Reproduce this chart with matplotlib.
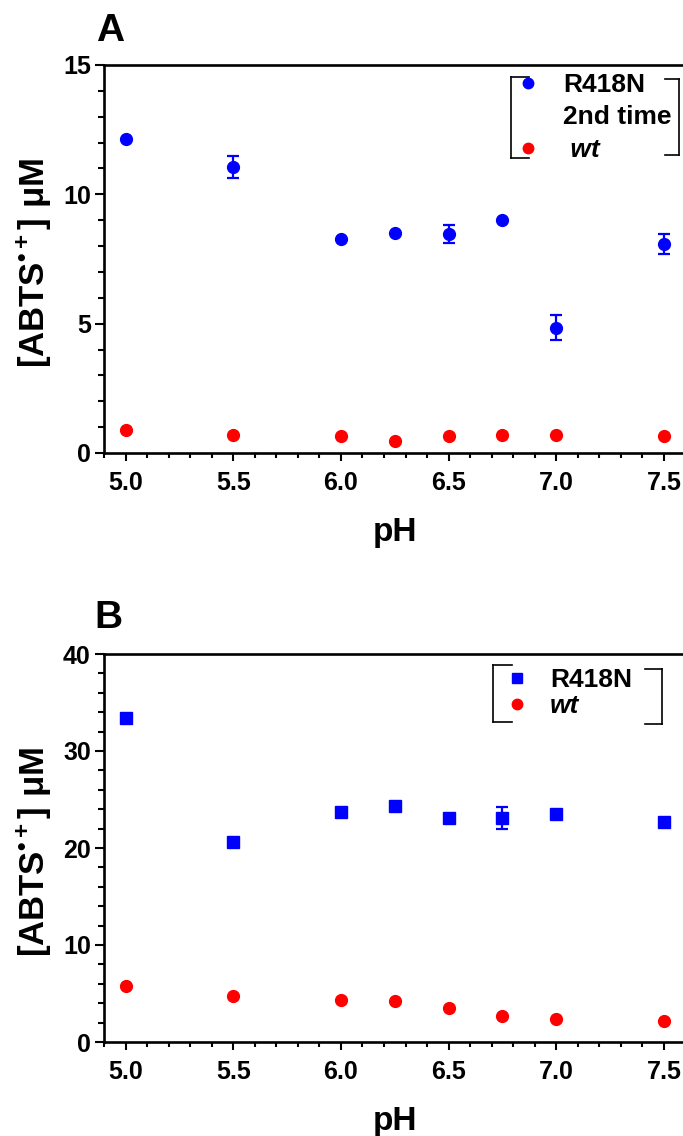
import numpy as np
import matplotlib
matplotlib.use("Agg")
import matplotlib.pyplot as plt
from matplotlib.lines import Line2D
from matplotlib.ticker import MultipleLocator, FormatStrFormatter

plt.rcParams['font.family'] = ['Liberation Sans', 'DejaVu Sans']
plt.rcParams['font.weight'] = 'bold'
plt.rcParams['mathtext.fontset'] = 'custom'
plt.rcParams['mathtext.rm'] = 'Liberation Sans'
plt.rcParams['mathtext.bf'] = 'Liberation Sans:bold'
plt.rcParams['mathtext.it'] = 'Liberation Sans:italic'

# ---------------- data ----------------
ph = [5.0, 5.5, 6.0, 6.25, 6.5, 6.75, 7.0, 7.5]

# Panel A
a_r418n = [12.13, 11.06, 8.27, 8.49, 8.46, 9.00, 4.84, 8.09]
a_r418n_err = [0.0, 0.41, 0.0, 0.0, 0.34, 0.0, 0.48, 0.39]
a_wt = [0.89, 0.71, 0.65, 0.47, 0.66, 0.69, 0.71, 0.66]

# Panel B
b_r418n = [33.4, 20.6, 23.7, 24.3, 23.1, 23.1, 23.55, 22.65]
b_r418n_err = [0.0, 0.0, 0.0, 0.0, 0.0, 1.1, 0.0, 0.0]
b_wt = [5.76, 4.76, 4.28, 4.24, 3.48, 2.72, 2.38, 2.17]

x_ticks = [5.0, 5.5, 6.0, 6.5, 7.0, 7.5]

BLUE = '#0000FF'
RED = '#FF0000'

W, H = 683, 1136
fig = plt.figure(figsize=(W / 100, H / 100), dpi=100)

def fx(px):
    return px / W

def fy(py):
    return 1 - py / H

ylabel = r'$\mathbf{[ABTS}^{\mathbf{•+}}\mathbf{]}\ \mathrm{\mu}\mathbf{M}$'


def style_axes(ax, ymax, ymajor, yminor):
    ax.set_xlim(4.9, 7.6)
    ax.set_ylim(0, ymax)
    ax.set_xticks(x_ticks)
    ax.xaxis.set_major_formatter(FormatStrFormatter('%.1f'))
    ax.xaxis.set_minor_locator(MultipleLocator(0.1))
    ax.yaxis.set_major_locator(MultipleLocator(ymajor))
    ax.yaxis.set_minor_locator(MultipleLocator(yminor))
    ax.spines['right'].set_visible(False)
    for s in ['left', 'bottom', 'top']:
        ax.spines[s].set_linewidth(1.9)
    ax.tick_params(axis='both', which='major', width=1.5, labelsize=18)
    ax.tick_params(axis='y', which='major', length=6.5, pad=3)
    ax.tick_params(axis='y', which='minor', length=4.2, width=1.5)
    ax.tick_params(axis='x', which='major', length=6, pad=7)
    ax.tick_params(axis='x', which='minor', length=3.8, width=1.5)
    for lab in ax.get_xticklabels() + ax.get_yticklabels():
        lab.set_fontweight('bold')
    ax.set_xlabel('pH', fontsize=24, fontweight='bold')
    ax.xaxis.set_label_coords(0.5, -0.165)
    ax.set_ylabel(ylabel, fontsize=25)
    ax.yaxis.set_label_coords(-0.088, 0.49)


def draw_brackets(left_x, left_y0, left_y1, left_tick, right_x, right_y0, right_y1, right_tick):
    lw = 1.2
    segs = [
        ([left_x, left_x], [left_y0, left_y1]),
        ([left_x, left_tick], [left_y0, left_y0]),
        ([left_x, left_tick], [left_y1, left_y1]),
        ([right_x, right_x], [right_y0, right_y1]),
        ([right_tick, right_x], [right_y0, right_y0]),
        ([right_tick, right_x], [right_y1, right_y1]),
    ]
    for xs, ys in segs:
        fig.add_artist(Line2D([fx(v) for v in xs], [fy(v) for v in ys],
                              color='black', lw=lw, transform=fig.transFigure))


# ---------------- Panel A ----------------
axA = fig.add_axes([fx(104), fy(453), fx(581.5), 388 / H])
ph_arr = np.array(ph)
a_err = np.array(a_r418n_err)
mA = a_err > 0
axA.errorbar(ph_arr[mA], np.array(a_r418n)[mA], yerr=a_err[mA], fmt='none',
             ecolor=BLUE, elinewidth=1.6, capsize=4.5, capthick=1.6, zorder=2)
axA.plot(ph, a_r418n, 'o', color=BLUE, ms=8.5, mec=BLUE, zorder=3)
axA.plot(ph, a_wt, 'o', color=RED, ms=8.5, mec=RED, zorder=3)
style_axes(axA, 15, 5, 1)

handlesA = [Line2D([], [], ls='none', marker='o', color=BLUE, ms=7.5),
            Line2D([], [], ls='none', marker='', color='none'),
            Line2D([], [], ls='none', marker='o', color=RED, ms=7.5)]
legA = axA.legend(handlesA, ['R418N', '2nd time', ' wt'], loc='upper left',
                  bbox_to_anchor=(fx(517), fy(73)), bbox_transform=fig.transFigure,
                  frameon=False, borderpad=0, borderaxespad=0, handlelength=0.8,
                  handletextpad=0.95, labelspacing=0.32,
                  prop={'size': 19, 'weight': 'bold'})
legA.get_texts()[2].set_fontstyle('italic')
draw_brackets(511, 77, 158, 529, 679, 79, 155, 665)

fig.text(fx(110), fy(31), 'A', fontsize=28, fontweight='bold', ha='center', va='center')

# ---------------- Panel B ----------------
axB = fig.add_axes([fx(104), fy(1042), fx(581.5), 388 / H])
b_err = np.array(b_r418n_err)
mB = b_err > 0
axB.errorbar(ph_arr[mB], np.array(b_r418n)[mB], yerr=b_err[mB], fmt='none',
             ecolor=BLUE, elinewidth=1.6, capsize=4.5, capthick=1.6, zorder=2)
axB.plot(ph, b_r418n, 's', color=BLUE, ms=8.5, mec=BLUE, zorder=3)
axB.plot(ph, b_wt, 'o', color=RED, ms=8.5, mec=RED, zorder=3)
style_axes(axB, 40, 10, 2)

handlesB = [Line2D([], [], ls='none', marker='s', color=BLUE, ms=7.5),
            Line2D([], [], ls='none', marker='o', color=RED, ms=7.5)]
legB = axB.legend(handlesB, ['R418N', 'wt'], loc='upper left',
                  bbox_to_anchor=(fx(506), fy(668)), bbox_transform=fig.transFigure,
                  frameon=False, borderpad=0, borderaxespad=0, handlelength=0.8,
                  handletextpad=0.87, labelspacing=0.09,
                  prop={'size': 19, 'weight': 'bold'})
legB.get_texts()[1].set_fontstyle('italic')
draw_brackets(493, 665, 722, 512, 662, 669, 724, 645)

fig.text(fx(108), fy(618), 'B', fontsize=28, fontweight='bold', ha='center', va='center')

fig.savefig('out.png', dpi=100)
